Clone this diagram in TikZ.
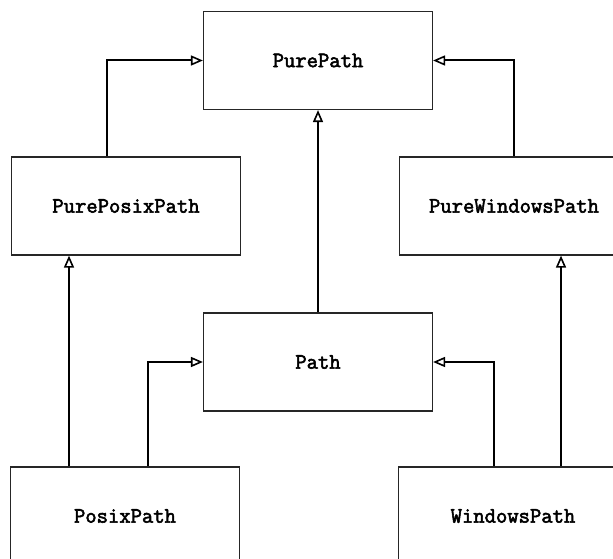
\documentclass[tikz,border=0pt]{standalone}
\usepackage{fontspec}
\newfontfamily\clsfont[FakeBold=2.6]{Latin Modern Mono}
\usetikzlibrary{arrows.meta}

\tikzset{
  cls/.style={draw=black!85, line width=1.2pt, fill=white, rectangle,
    minimum width=229pt, minimum height=98pt,
    font=\fontsize{22}{24}\clsfont},
  inh/.style={line width=2pt, -{Triangle[open, length=12pt, width=10pt, line width=1.6pt]}}
}

\begin{document}
\begin{tikzpicture}[x=1pt, y=-1pt]
  \useasboundingbox (0,0) rectangle (613,559);
  \clip (0,0) rectangle (613,559);

  % ---- classes ----
  \node[cls] (pp)    at (318,60.5) {PurePath};
  \node[cls] (ppx)   at (126,206)  {PurePosixPath};
  \node[cls] (pwp)   at (514,206)  {PureWindowsPath};
  \node[cls] (path)  at (318,362)  {Path};
  \node[cls] (posix) at (125,516)  {PosixPath};
  \node[cls] (win)   at (513,516)  {WindowsPath};

  % ---- inheritance: pure flavours ----
  \draw[inh] ([xshift=-19pt]ppx.north) |- (pp.west);
  \draw[inh] (pwp.north) |- (pp.east);
  \draw[inh] (path.north) -- (pp.south);

  % ---- inheritance: concrete classes ----
  \draw[inh] ([xshift=-56pt]posix.north) -- ([xshift=-56pt]posix.north |- ppx.south);
  \draw[inh] ([xshift=23pt]posix.north) |- (path.west);
  \draw[inh] ([xshift=-19pt]win.north) |- (path.east);
  \draw[inh] ([xshift=48pt]win.north) -- ([xshift=48pt]win.north |- pwp.south);
\end{tikzpicture}
\end{document}
